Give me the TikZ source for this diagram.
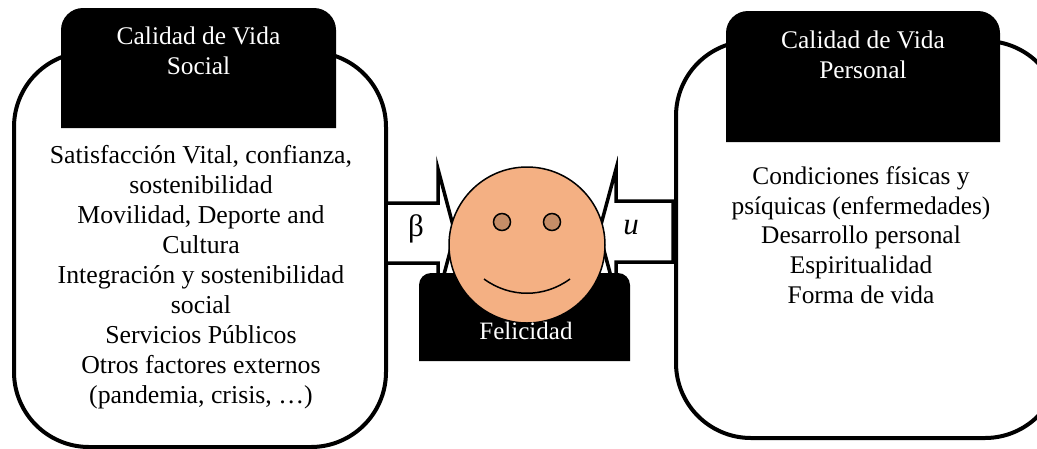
\documentclass[tikz,border=0pt]{standalone}
\usepackage{fontspec}
\setmainfont{Liberation Serif}
\tikzset{
  panel/.style={draw,line width=4pt,fill=white,rounded corners=75pt},
  tabfill/.style={fill=black},
  tabtext/.style={text=white,align=center,font=\fontsize{25.4}{29.5}\selectfont},
  bodytext/.style={align=center,font=\fontsize{25.8}{30}\selectfont},
  pointer/.style={draw,line width=3.5pt,fill=white,miter limit=10},
  face/.style={draw,line width=1.5pt},
}
\definecolor{skin}{RGB}{244,176,131}
\definecolor{eyecol}{RGB}{197,141,103}
\begin{document}
\begin{tikzpicture}[x=1pt,y=-1pt]
  \useasboundingbox (0,0) rectangle (1037,448);
  % side panels
  \draw[panel] (14,52) rectangle (386,447);
  \draw[panel] (676,41) rectangle (1060,438);
  \fill[tabfill] (61,128) [rounded corners=22pt] -- (61,8) -- (336,8) [sharp corners] -- (336,128) -- cycle;
  \fill[tabfill] (726,142) [rounded corners=22pt] -- (726,11) -- (1000,11) [sharp corners] -- (1000,142) -- cycle;
  \node[tabtext] (socialtab) at (198.5,51) {Calidad de Vida\\Social};
  \node[tabtext] (personaltab) at (863,55) {Calidad de Vida\\Personal};
  \node[bodytext] (socialtxt) at (201,277) {Satisfacción Vital, confianza,\\sostenibilidad\\Movilidad, Deporte and\\Cultura\\Integración y sostenibilidad\\social\\Servicios Públicos\\Otros factores externos\\(pandemia, crisis, …)};
  \node[bodytext,font=\fontsize{25.4}{29.8}\selectfont] (personaltxt) at (861,235) {Condiciones físicas y\\psíquicas (enfermedades)\\Desarrollo personal\\Espiritualidad\\Forma de vida};
  % pointers towards the face
  \draw[pointer] (386,203) -- (438,203) -- (438,169) -- (455,233) -- (438,297) -- (438,263) -- (386,263) -- cycle;
  \draw[pointer] (673,201) -- (616,201) -- (616,169) -- (599,232) -- (616,295) -- (616,262) -- (673,262) -- cycle;
  \node[font=\fontsize{31}{32}\selectfont] (beta) at (416,229) {β};
  \node[font=\fontsize{31}{32}\selectfont\itshape] (uu) at (631,228) {u};
  % face
  \fill[tabfill] (419,361) [rounded corners=12pt] -- (419,273) -- (630,273) [sharp corners] -- (630,361) -- cycle;
  \draw[face,fill=skin] (527,245) circle (78);
  \draw[face,fill=eyecol] (502,222) circle (8.5);
  \draw[face,fill=eyecol] (552,222) circle (8.5);
  \draw[face] (484,279) .. controls (510,298) and (544,298) .. (570,279);
  \node[tabtext,font=\fontsize{25}{29.5}\selectfont] (felicidad) at (526,331) {Felicidad};
\end{tikzpicture}
\end{document}
